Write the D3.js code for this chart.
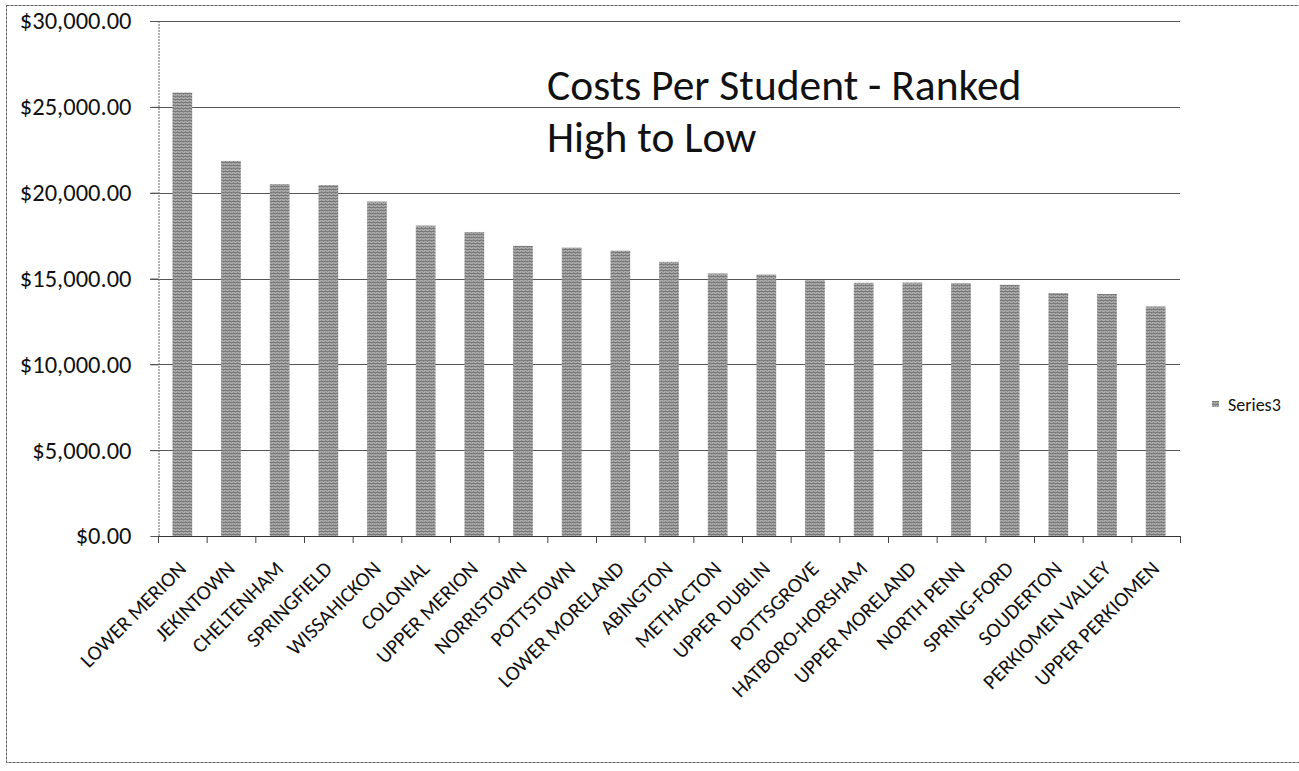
<!DOCTYPE html>
<html>
<head>
<meta charset="utf-8">
<script src="https://cdn.jsdelivr.net/npm/d3@7"></script>
<style>
  body { margin: 0; background: #fff; }
  svg { display: block; }
  text { font-family: Carlito, Calibri, Lato, sans-serif; fill: #111; }
</style>
</head>
<body>
<svg id="chart" width="1299" height="771"></svg>
<script>
// School districts, ranked by cost per student
const districts = [
  "LOWER MERION", "JEKINTOWN", "CHELTENHAM", "SPRINGFIELD", "WISSAHICKON",
  "COLONIAL", "UPPER MERION", "NORRISTOWN", "POTTSTOWN", "LOWER MORELAND",
  "ABINGTON", "METHACTON", "UPPER DUBLIN", "POTTSGROVE", "HATBORO-HORSHAM",
  "UPPER MORELAND", "NORTH PENN", "SPRING-FORD", "SOUDERTON",
  "PERKIOMEN VALLEY", "UPPER PERKIOMEN"
];
const costPerStudent = [
  25830, 21850, 20500, 20440, 19480,
  18080, 17710, 16900, 16800, 16620,
  15970, 15290, 15230, 14900, 14750,
  14760, 14730, 14630, 14150,
  14100, 13370
];
const yTicks = [0, 5000, 10000, 15000, 20000, 25000, 30000];
const titleLines = ["Costs Per Student - Ranked", "High to Low"];
const seriesName = "Series3";

const svg = d3.select("#chart");
const plot = { left: 158, right: 1180, top: 21, bottom: 536 };

// Bar texture: fine horizontal dither in mid gray
const defs = svg.append("defs");
const pat = defs.append("pattern")
  .attr("id", "barFill")
  .attr("patternUnits", "userSpaceOnUse")
  .attr("width", 4).attr("height", 3);
pat.append("rect").attr("width", 4).attr("height", 3).attr("fill", "#a9a9a9");
pat.append("rect").attr("width", 4).attr("height", 1).attr("fill", "#7a7a7a");
pat.append("rect").attr("x", 1).attr("y", 2).attr("width", 1).attr("height", 1).attr("fill", "#838383");
pat.append("rect").attr("x", 3).attr("y", 1).attr("width", 1).attr("height", 1).attr("fill", "#8e8e8e");

// Outer chart border
svg.append("rect")
  .attr("x", 6.5).attr("y", 5.5)
  .attr("width", 1300).attr("height", 757)
  .attr("fill", "none")
  .attr("stroke", "#5a5a5a")
  .attr("stroke-width", 1)
  .attr("stroke-dasharray", "3,1");

const x = d3.scaleBand()
  .domain(districts)
  .range([plot.left, plot.right])
  .paddingInner(0.595)
  .paddingOuter(0.2975);

const y = d3.scaleLinear()
  .domain([0, 30000])
  .range([plot.bottom, plot.top]);

// Horizontal gridlines with short ticks left of the axis
svg.append("g")
  .selectAll("line")
  .data(yTicks.filter(t => t > 0))
  .join("line")
  .attr("x1", plot.left - 8).attr("x2", plot.right)
  .attr("y1", d => Math.round(y(d)) + 0.5)
  .attr("y2", d => Math.round(y(d)) + 0.5)
  .attr("stroke", "#555")
  .attr("stroke-width", 1.2);

// Y axis
const yAxis = d3.axisLeft(y)
  .tickValues(yTicks)
  .tickSize(8)
  .tickPadding(19)
  .tickFormat(d3.format("$,.2f"));
const gy = svg.append("g")
  .attr("transform", `translate(${plot.left + 0.5},0)`)
  .call(yAxis);
gy.select(".domain").attr("stroke", "#666").attr("stroke-dasharray", "2,1");
gy.selectAll(".tick line").attr("stroke", "#555");
gy.selectAll(".tick text")
  .style("font-size", "24.5px")
  .style("font-family", "Carlito, Calibri, Lato, sans-serif")
  .attr("fill", "#111");

// Bars
svg.append("g")
  .selectAll("rect")
  .data(districts.map((d, i) => ({ name: d, value: costPerStudent[i] })))
  .join("rect")
  .attr("x", d => x(d.name))
  .attr("width", x.bandwidth())
  .attr("y", d => y(d.value))
  .attr("height", d => y(0) - y(d.value))
  .attr("fill", "url(#barFill)");

// X axis line and category separators
const gx = svg.append("g");
gx.append("line")
  .attr("x1", plot.left).attr("x2", plot.right)
  .attr("y1", plot.bottom + 0.5).attr("y2", plot.bottom + 0.5)
  .attr("stroke", "#333").attr("stroke-width", 1.2);
const step = x.step();
gx.selectAll("line.sep")
  .data(d3.range(districts.length + 1))
  .join("line")
  .attr("class", "sep")
  .attr("x1", i => plot.left + i * step + 0.5)
  .attr("x2", i => plot.left + i * step + 0.5)
  .attr("y1", plot.bottom)
  .attr("y2", plot.bottom + 7)
  .attr("stroke", "#444");

// Rotated category labels
gx.selectAll("text")
  .data(districts)
  .join("text")
  .attr("transform", d => `translate(${x(d) + x.bandwidth() / 2 + 5},${plot.bottom + 34}) rotate(-45)`)
  .attr("text-anchor", "end")
  .style("font-size", "21px")
  .text(d => d);

// Title inside the plot
const title = svg.append("text")
  .attr("x", 547).attr("y", 100)
  .style("font-size", "43.5px");
title.selectAll("tspan")
  .data(titleLines)
  .join("tspan")
  .attr("x", 547)
  .attr("dy", (d, i) => i === 0 ? 0 : 52)
  .text(d => d);

// Legend
const legend = svg.append("g").attr("transform", "translate(1212,401)");
legend.append("rect")
  .attr("width", 7).attr("height", 6)
  .attr("fill", "url(#barFill)");
legend.append("text")
  .attr("x", 16).attr("y", 10)
  .style("font-size", "18px")
  .text(seriesName);
</script>
</body>
</html>
